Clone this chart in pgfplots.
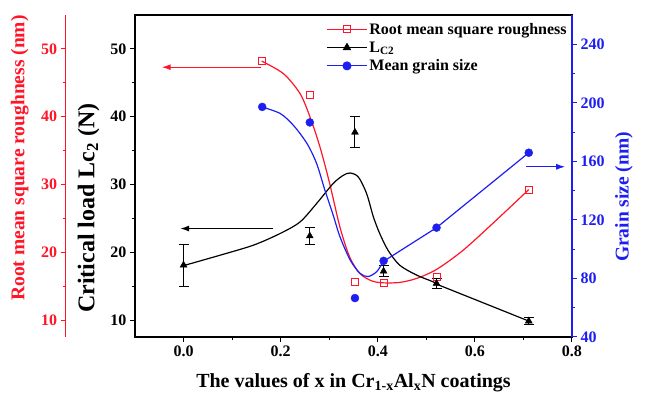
\documentclass[border=0pt]{standalone}
\usepackage{fontspec}
\setmainfont{Liberation Serif}
\usepackage{pgfplots}
\pgfplotsset{compat=1.18}
\usetikzlibrary{arrows.meta}

\definecolor{rcol}{RGB}{255,20,40}
\definecolor{bcol}{RGB}{30,30,240}

\pgfplotsset{
  base/.style={
    scale only axis, width=437pt, height=322pt,
    xmin=-0.1, xmax=0.8,
    /pgf/number format/assume math mode=true,
    tick label style={font=\fontsize{16}{16}\selectfont\bfseries},
    yticklabel={\bfseries\pgfmathprintnumber{\tick}},
    label style={font=\fontsize{19.5}{19.5}\selectfont\bfseries},
    tick align=outside, major tick length=5pt, minor tick length=3pt,
    every tick/.style={line width=1pt},
  },
}

\begin{document}
\begin{tikzpicture}
\useasboundingbox (-135pt,-64pt) rectangle (511pt,337pt);

% red roughness axis, shifted out to the left
\begin{axis}[base,
    at={(-69.3pt,0pt)},
    hide x axis,
    axis y line*=left,
    ymin=7.5, ymax=55,
    ytick={10,20,30,40,50}, minor y tick num=1,
    y axis line style={rcol, line width=1.2pt},
    ytick style={rcol},
    yticklabel style={text=rcol},
    ylabel={Root mean square roughness (nm)},
    ylabel style={text=rcol, at={(axis description cs:-0.105,0.556)}, anchor=center},
]
\end{axis}

% main axis: critical load
\begin{axis}[base,
    ymin=7.5, ymax=55,
    xtick={0,0.2,0.4,0.6,0.8}, minor x tick num=1,
    ytick={10,20,30,40,50}, minor y tick num=1,
    xtick pos=lower, ytick pos=left,
    xticklabel={\bfseries\pgfmathprintnumber[fixed, fixed zerofill, precision=1]{\tick}},
    axis line style={line width=1.2pt},
    xlabel={The values of x in Cr\textsubscript{1-x}Al\textsubscript{x}N coatings},
    xlabel style={font=\fontsize{20}{20}\selectfont\bfseries, at={(axis description cs:0.5,-0.143)}, anchor=center},
    ylabel={Critical load Lc\textsubscript{2} (N)},
    ylabel style={font=\fontsize{24}{24}\selectfont\bfseries, at={(axis description cs:-0.106,0.40)}, anchor=center},
    legend style={draw=none, fill=none, at={(axis description cs:0.995,0.985)},
      anchor=north east, font=\fontsize{16}{16}\selectfont\bfseries,
      row sep=2pt, inner sep=1pt, cells={anchor=west}},
    legend image code/.code={\draw[mark repeat=2,mark phase=2] plot coordinates {(0cm,0cm) (0.7cm,0cm) (1.4cm,0cm)};},
]
\addlegendimage{rcol, line width=1pt, mark=square, mark size=3.5pt, mark options={solid, fill=white}}
\addlegendentry{Root mean square roughness}
\addlegendimage{black, line width=1pt, mark=triangle*, mark size=4pt}
\addlegendentry{L\textsubscript{C2}}
\addlegendimage{bcol, line width=1pt, mark=*, mark size=4pt}
\addlegendentry{Mean grain size}

% roughness curve and points
\addplot[rcol, line width=1.2pt, smooth, forget plot] coordinates {
 (0.161,48.19) (0.206,46.33) (0.240,43.39) (0.2605,39.94) (0.281,35.52)
 (0.301,30.13) (0.322,23.74) (0.342,19.32) (0.363,16.88) (0.387,15.79)
 (0.411,15.49) (0.445,15.55) (0.480,16.14) (0.521,17.47) (0.576,20.31)
 (0.644,24.73) (0.711,29.25)};
\addplot[rcol, only marks, mark=square, mark size=3.5pt, line width=1pt,
  mark options={fill=white}, forget plot] coordinates {
 (0.162,48.2) (0.260,43.2) (0.353,15.6) (0.412,15.5) (0.521,16.4) (0.711,29.2)};

% critical load curve and points
\addplot[black, line width=1.2pt, smooth, forget plot] coordinates {
 (0.0035,18.1) (0.0755,19.57) (0.144,21.05) (0.199,22.77) (0.240,24.48)
 (0.274,27.19) (0.308,30.13) (0.329,31.35) (0.343,31.69) (0.360,31.10)
 (0.377,28.66) (0.391,25.21) (0.404,22.77) (0.421,20.31) (0.445,18.10)
 (0.480,16.63) (0.514,15.64) (0.521,15.3)};
\addplot[black, line width=1.2pt, forget plot] coordinates {(0.521,15.3) (0.711,9.85)};
\addplot[black, only marks, mark=triangle*, mark size=4pt, forget plot,
  error bars/.cd, y dir=both, y explicit,
  error bar style={line width=1pt}, error mark options={rotate=90, mark size=5pt, line width=1pt}]
  coordinates {
 (0.0,18.1) +- (0,3.1)
 (0.260,22.4) +- (0,1.2)
 (0.353,37.7) +- (0,2.3)
 (0.412,17.2) +- (0,0.8)
 (0.521,15.4) +- (0,0.8)
 (0.711,9.85) +- (0,0.5)};

% arrows pointing at the left axes
\addplot[rcol, line width=1.2pt, -{Latex[length=9pt,width=6pt]}, forget plot]
  coordinates {(0.16,47.3) (-0.045,47.3)};
\addplot[black, line width=1.2pt, -{Latex[length=9pt,width=6pt]}, forget plot]
  coordinates {(0.185,23.5) (-0.007,23.5)};
\end{axis}

% blue grain size axis on the right
\begin{axis}[base,
    hide x axis,
    axis y line*=right,
    ymin=40, ymax=260,
    ytick={40,80,...,240}, minor y tick num=1,
    y axis line style={bcol, line width=1.2pt},
    ytick style={bcol},
    yticklabel style={text=bcol},
    ylabel={Grain size (nm)},
    ylabel style={text=bcol, at={(axis description cs:1.119,0.435)}, anchor=center},
]
\addplot[bcol, line width=1.2pt, smooth] coordinates {
 (0.161,197.2) (0.199,192.7) (0.226,184.7) (0.254,172.3) (0.274,158.6)
 (0.291,140.4) (0.308,123.4) (0.322,108.6) (0.343,92.7) (0.363,83.6)
 (0.380,81.3) (0.398,84.7) (0.411,91.5)};
\addplot[bcol, line width=1.2pt] coordinates {(0.411,91.5) (0.521,114.7) (0.711,165.9)};
\addplot[bcol, only marks, mark=*, mark size=4pt] coordinates {
 (0.162,197.2) (0.260,186.6) (0.353,66.6) (0.412,92.0) (0.521,114.7) (0.711,165.9)};
\addplot[bcol, line width=1.2pt, -{Latex[length=9pt,width=6pt]}]
  coordinates {(0.706,156.3) (0.786,156.3)};
\end{axis}
\end{tikzpicture}
\end{document}
